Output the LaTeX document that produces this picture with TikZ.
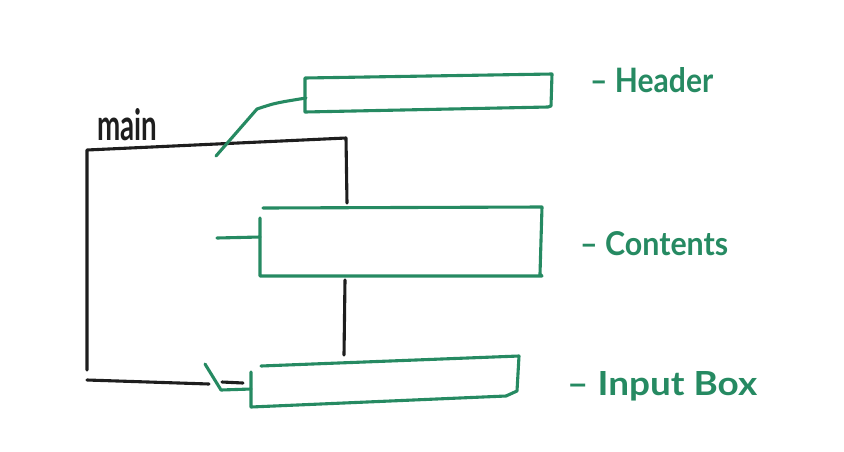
\documentclass[tikz,border=0pt]{standalone}
\usepackage{fontspec}
\setmainfont{Lato}
\definecolor{pen}{RGB}{38,138,98}
\definecolor{ink}{RGB}{30,30,30}
\tikzset{
  blackline/.style={draw=ink, line width=3.1pt, line cap=round, line join=round},
  greenline/.style={draw=pen, line width=3.1pt, line cap=round, line join=round},
  greenlabel/.style={text=pen, inner sep=0pt, anchor=base west},
  blacklabel/.style={text=ink, inner sep=0pt, anchor=base west}
}
\begin{document}
\begin{tikzpicture}[x=1pt,y=-1pt]
\useasboundingbox (0,0) rectangle (844,451);
% black frame (main)
\coordinate (mtl) at (87,150);
\coordinate (mtr) at (346,138);
\coordinate (mr1) at (347,203);
\coordinate (ml2) at (87,370);
\coordinate (mb1) at (87,380);
\coordinate (mb2) at (209,384);
\coordinate (mb3) at (222,382);
\coordinate (mb4) at (243,383);
\coordinate (mm1) at (345,280);
\coordinate (mm2) at (344,355);
\draw[blackline] (ml2) -- (mtl) -- (mtr) -- (mr1);
\draw[blackline] (mb1) -- (mb2);
\draw[blackline] (mb3) -- (mb4);
\draw[blackline] (mm1) -- (mm2);
\node[blacklabel] (mainlbl) at (97,140) {\resizebox{60pt}{32pt}{\bfseries main}};
% header box
\coordinate (h1) at (305,78);
\coordinate (h2) at (552,74);
\coordinate (h3) at (551,106);
\coordinate (h4) at (305,112);
\draw[greenline] (h1) -- (h2) -- (h3) -- (548,107) -- (h4) -- cycle;
\coordinate (hc1) at (216,156);
\coordinate (hc2) at (257,109);
\coordinate (hc3) at (306,98);
\draw[greenline] (hc1) -- (hc2) .. controls (275,103) .. (hc3);
\node[greenlabel] (headerlbl) at (590,92) {\resizebox{123pt}{25pt}{\bfseries – Header}};
% contents box
\coordinate (c1) at (263,208);
\coordinate (c2) at (542,207);
\coordinate (c3) at (540,274);
\coordinate (c4) at (260,276);
\coordinate (c5) at (260,218);
\draw[greenline] (c1) -- (c2) -- (c3) -- (542,276) -- (c4) -- (c5);
\coordinate (cc1) at (217,238);
\coordinate (cc2) at (260,237);
\draw[greenline] (cc1) -- (cc2);
\node[greenlabel] (contentslbl) at (580,255) {\resizebox{148pt}{24pt}{\bfseries – Contents}};
% input box
\coordinate (i1) at (261,366);
\coordinate (i2) at (519,356);
\coordinate (i3) at (517,391);
\coordinate (i4) at (506,396);
\coordinate (i5) at (251,407);
\coordinate (i6) at (251,372);
\draw[greenline] (i1) -- (i2) -- (i3) -- (i4) -- (i5) -- (i6);
\coordinate (ic1) at (205,364);
\coordinate (ic2) at (221,390);
\coordinate (ic3) at (251,389);
\draw[greenline] (ic1) -- (ic2) -- (ic3);
\node[greenlabel] (inputlbl) at (567,395) {\resizebox{190pt}{24pt}{\bfseries – Input Box}};
\end{tikzpicture}
\end{document}
